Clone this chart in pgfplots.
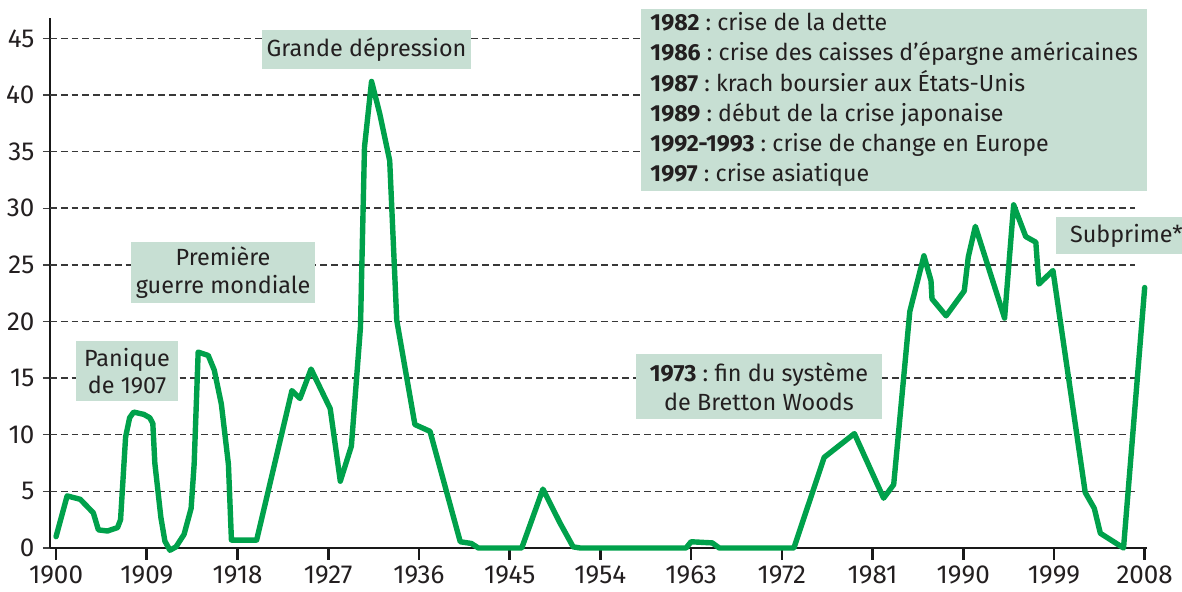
\documentclass[border=0pt]{standalone}
\usepackage{fontspec}
\setmainfont{Fira Sans}
\usepackage{pgfplots}
\pgfplotsset{compat=1.18}
\definecolor{linegreen}{HTML}{00A14B}
\definecolor{boxfill}{HTML}{C7DFD3}
\definecolor{txt}{HTML}{231F20}

\pgfplotstableread{
year val
1900.0 1.0
1901.1 4.6
1902.4 4.3
1903.7 3.1
1904.2 1.6
1905.1 1.5
1906.1 1.8
1906.4 2.5
1906.9 9.8
1907.3 11.5
1907.7 12.0
1908.7 11.8
1909.3 11.5
1909.6 11.0
1909.8 7.5
1910.4 2.7
1910.8 0.6
1911.3 -0.2
1911.9 0.1
1912.7 1.2
1913.4 3.5
1913.7 7.4
1914.1 17.3
1915.1 17.0
1915.7 15.7
1916.4 12.7
1917.1 7.4
1917.4 0.7
1919.9 0.7
1923.4 13.9
1924.2 13.2
1925.3 15.8
1927.2 12.3
1928.2 5.9
1929.3 9.0
1930.2 19.5
1930.6 35.4
1931.3 41.2
1932.1 38.4
1933.1 34.2
1933.8 20.1
1935.6 10.9
1937.1 10.3
1940.1 0.55
1941.2 0.4
1941.9 0.0
1946.2 0.0
1948.3 5.2
1950.0 2.2
1951.3 0.1
1952.0 0.0
1962.5 0.0
1963.0 0.55
1965.1 0.45
1965.8 0.0
1973.2 0.0
1976.2 8.0
1979.2 10.1
1982.1 4.4
1983.1 5.6
1984.7 20.9
1986.1 25.8
1986.8 23.6
1986.9 22.0
1988.3 20.5
1990.1 22.7
1990.5 25.7
1991.2 28.4
1994.1 20.3
1995.0 30.3
1996.2 27.5
1997.2 27.0
1997.5 23.3
1998.9 24.5
2002.1 4.9
2003.0 3.5
2003.6 1.3
2005.9 0.0
2008.0 23.0
}\crisisdata

\frenchspacing
\begin{document}
\hyphenpenalty=10000
\begin{tikzpicture}[font=\fontsize{11.7pt}{14pt}\selectfont, text=txt]
\begin{axis}[
  at={(0,0)}, anchor=south west,
  scale only axis, width=548.35pt, height=265pt,
  xmin=1899.4, xmax=2008.2, ymin=0, ymax=46.8,
  axis x line*=bottom, axis y line*=left,
  axis line style={line width=1.3pt, black!90, -},
  xtick={1900,1909,...,2008},
  ytick={0,5,...,45},
  tick align=outside,
  xtick style={line width=1.3pt, black!90, /pgfplots/major tick length=6pt},
  ytick style={line width=0.7pt, black!75, /pgfplots/major tick length=3.5pt},
  every tick label/.append style={font=\fontsize{13pt}{15pt}\selectfont, text=txt},
  x tick label style={/pgf/number format/1000 sep={}, yshift=-1pt},
  /pgf/number format/assume math mode=true,
  clip=false,
]
\pgfplotsinvokeforeach{5,10,15,20,25,30,35,40,45}{
  \draw[black!78, line width=0.75pt, dash pattern=on 3.4pt off 2pt]
    (axis cs:1899.4,#1) -- (axis cs:2007.04,#1);
}
\addplot[linegreen, line width=2.7pt, line join=round, line cap=round]
  table[x=year, y=val] {\crisisdata};

\node[fill=boxfill, inner sep=0pt, minimum width=51pt, minimum height=30pt, align=center,
  font=\fontsize{11.7pt}{13.5pt}\selectfont]
  at (axis cs:1907.04,15.6) {Panique\\de 1907};
\node[fill=boxfill, inner sep=0pt, minimum width=92pt, minimum height=30.5pt, align=center,
  font=\fontsize{11.7pt}{14pt}\selectfont]
  at (axis cs:1916.57,24.3) {Première\\guerre mondiale};
\node[fill=boxfill, inner sep=0pt, minimum width=104.5pt, minimum height=19.5pt]
  at (axis cs:1930.8,44.0) {Grande dépression};
\node[fill=boxfill, inner sep=0pt, minimum width=123pt, minimum height=32.5pt, align=center,
  font=\fontsize{11.7pt}{14.3pt}\selectfont]
  at (axis cs:1969.74,14.25) {\textbf{1973} : fin du système\\de Bretton Woods};
\node[fill=boxfill, anchor=west, inner xsep=5pt, inner ysep=0pt, minimum width=70pt,
  minimum height=18.5pt, align=left]
  at (axis cs:1999.2,27.58) {Subprime*};
\node[fill=boxfill, anchor=north west, inner xsep=4.5pt, inner ysep=2pt, minimum height=90pt,
  align=left, font=\fontsize{11.6pt}{15.1pt}\selectfont]
  at (axis cs:1958.04,47.66) {\textbf{1982} : crise de la dette\\
  \textbf{1986} : crise des caisses d’épargne américaines\\
  \textbf{1987} : krach boursier aux États-Unis\\
  \textbf{1989} : début de la crise japonaise\\
  \textbf{1992-1993} : crise de change en Europe\\
  \textbf{1997} : crise asiatique};
\end{axis}
\pgfresetboundingbox
\path[use as bounding box] (-25pt,-22pt) rectangle (566pt,274pt);
\end{tikzpicture}
\end{document}
